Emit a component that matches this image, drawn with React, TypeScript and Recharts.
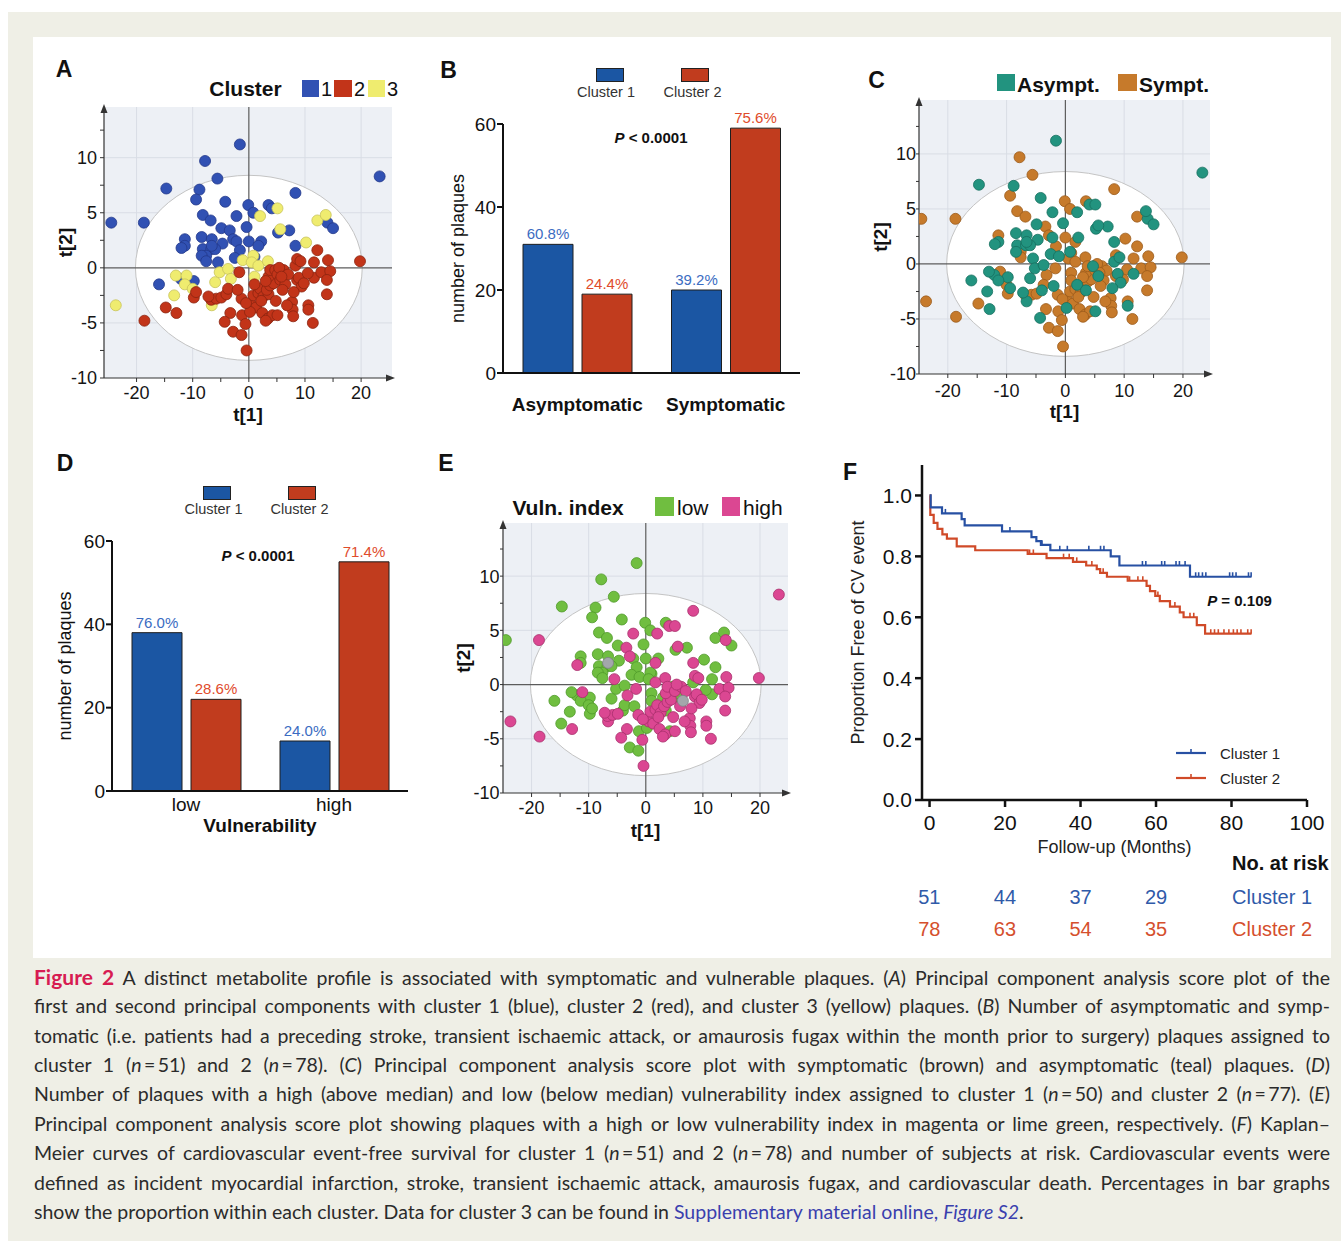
import React from "react";
import {
  ScatterChart, Scatter, XAxis, YAxis, CartesianGrid, ReferenceLine, ReferenceArea, ReferenceDot,
  BarChart, Bar, LabelList, ComposedChart, Line, Label,
} from "recharts";

const FONT = '"Liberation Sans", Arial, Helvetica, sans-serif';

// PCA score rows: [t1, t2, symptomatic 1 / asymptomatic 0, vulnerability high 1 / low 0 / missing -1]
const cluster1Scores = [
  [-24.5, 4.1, 1, 0], [-18.7, 4.1, 1, 1], [-14.7, 7.2, 0, 0], [-8.8, 7.1, 0, 0], [-7.8, 9.7, 1, 0], [-5.6, 8.1, 1, 0], [-1.6, 11.2, 0, 0], [23.3, 8.3, 0, 1], [-9.4, 6.2, 1, 0], [-4.2, 6.0, 0, 0],
  [-8.2, 4.8, 1, 0], [-6.8, 4.3, 1, 0], [-2.2, 4.7, 0, 1], [-0.1, 5.7, 1, 0], [0.8, 5.0, 1, 0], [3.5, 5.7, 1, 0], [4.1, 5.4, 0, 1], [8.3, 6.8, 1, 1], [-0.4, 3.7, 0, 0], [-4.9, 3.6, 0, 0],
  [-3.4, 3.4, 1, 1], [-8.4, 2.8, 0, 0], [-6.6, 2.6, 0, 0], [-2.8, 2.6, 1, 1], [-2.2, 2.4, 0, 0], [-4.7, 2.2, 0, 0], [0, 2.4, 1, 0], [2.2, 2.4, 0, 0], [1.7, 2.0, 1, 1], [5.2, 3.2, 0, 0],
  [7.2, 3.4, 0, 0], [8.3, 2.0, 0, 1], [14.0, 4.1, 0, 1], [15.0, 3.6, 0, 0], [-11.4, 2.6, 1, 0], [-11.4, 2.0, 0, 0], [-12.0, 1.8, 0, 1], [-8.2, 1.7, 0, 0], [-6.7, 1.7, 0, 0], [-6.0, 1.7, 0, 0],
  [-7.6, 1.1, 1, 0], [-8.4, 1.1, 0, 0], [-7.6, 0.6, 1, 0], [-5.5, 0.5, 0, 1], [-1.6, 1.6, 1, 0], [-2.5, 0.9, 0, 0], [-16.0, -1.5, 0, 0], [-12.1, -1.0, 0, 0], [-9.8, -1.2, 0, 0], [-6.6, 2.0, 0, -1],
  [1.0, 1.0, 1, 0],
];

const cluster2Scores = [
  [-18.6, -4.8, 1, 1], [-14.8, -3.6, 1, 0], [-12.9, -4.1, 0, 1], [-9.8, -2.7, 1, 0], [-9.4, -2.2, 0, 0], [-6.7, -2.9, 1, 1], [-5.8, -2.8, 1, 1], [-4.9, -2.7, 1, 1], [-4.0, -2.4, 0, 0], [-3.7, -1.9, 1, 0],
  [-1.7, -0.4, 1, 1], [-1.3, -2.8, 1, 1], [-3.3, -4.1, 1, 1], [-4.3, -4.9, 0, 1], [-2.8, -5.8, 1, 0], [-1.3, -6.1, 1, 0], [-1.2, -4.3, 1, 0], [-0.6, -5.1, 1, 1], [-0.4, -7.5, 1, 1], [0.5, -3.4, 1, 1],
  [1.3, -3.6, 1, 1], [0.8, -2.5, 1, 1], [1.7, -2.3, 1, 1], [2.0, -1.9, 0, 1], [2.6, -2.6, 1, 1], [3.5, -2.4, 0, 0], [3.2, -2.0, 1, 1], [3.8, -1.6, 1, 1], [4.4, -1.4, 1, 1], [2.4, -4.1, 1, 1],
  [3.4, -4.6, 1, 1], [4.2, -4.3, 1, 0], [5.1, -4.3, 0, 1], [3.5, -0.8, 1, 1], [3.8, -0.2, 1, 1], [4.7, -0.2, 0, 0], [5.1, -0.6, 1, 1], [5.6, -1.1, 0, 0], [6.2, -0.2, 1, 1], [6.5, -1.5, 1, -1],
  [5.4, 0, 1, 1], [8.3, 0.2, 0, 0], [8.6, 0.8, 1, 1], [9.2, 0.6, 0, 1], [8.6, -1.1, 1, 1], [8.9, -0.9, 0, 1], [9.4, -1.7, 0, 1], [7.7, -3.1, 1, 1], [7.8, -3.8, 1, 1], [7.9, -4.4, 1, 1],
  [10.6, -3.4, 1, 1], [10.6, -3.8, 0, 1], [11.4, -5.0, 1, 1], [12.2, 1.6, 1, 0], [11.6, 0.5, 1, 0], [14.1, 0.7, 1, 1], [11.6, -0.9, 0, 0], [12.9, -0.4, 1, 1], [14.5, -0.3, 1, 1], [13.9, -1.1, 1, 1],
  [13.9, -2.4, 1, 1], [19.8, 0.6, 1, 1], [3.0, -1.2, 1, 0], [6.0, -2.0, 1, 1], [2.2, -3.0, 1, 1], [1.0, -1.5, 1, 0], [4.8, -3.0, 1, 1], [-2.0, -2.0, 0, 0], [7.0, -0.6, 1, 1], [9.8, -1.4, 1, 1],
  [6.8, -3.4, 1, 1], [0.2, -4.0, 0, 0], [3.0, -4.8, 1, 1], [5.8, -0.8, 1, 0], [-0.5, -3.2, 1, 1], [8.0, -2.2, 0, 1], [10.5, -0.5, 1, 0], [-7.2, -2.6, 0, 1],
];

const cluster3Scores = [
  [-23.7, -3.4, 1, 1], [-13.3, -2.5, 0, 0], [-13.0, -0.7, 0, 0], [-11.1, -0.7, 1, 1], [-11.4, -1.5, 0, 0], [-10.0, -1.9, 1, 0], [-6.6, -3.4, 0, 1], [-6.0, -1.3, 0, 0], [-5.2, -0.4, 0, 0], [-3.7, -0.1, 0, 0],
  [-3.2, -1.0, 1, 1], [-1.1, 0.7, 0, 0], [0.8, 1.1, 0, 0], [0.5, 0.5, 1, 0], [1.7, 0.2, 1, 1], [3.4, 0.6, 1, 1], [1.0, -0.8, 1, 0], [2.0, 4.7, 0, 1], [5.1, 5.4, 0, 1], [5.6, 3.5, 0, 1],
  [10.2, 2.3, 1, 0], [12.2, 4.3, 1, 0], [13.7, 4.8, 0, 0],
];

// confidence ellipse half-axes (score units)
const ellipseT1 = 20.2;
const ellipseT2 = 8.4;

const scoreTicksX = [-20, -15, -10, -5, 0, 5, 10, 15, 20];
const scoreTicksY = [-10, -7.5, -5, -2.5, 0, 2.5, 5, 7.5, 10, 12.5];

// bar panels
const symptomCategories = ["Asymptomatic", "Symptomatic"];
const symptomCluster1 = [31, 20];
const symptomCluster2 = [19, 59];
const symptomPct1 = ["60.8%", "39.2%"];
const symptomPct2 = ["24.4%", "75.6%"];

const vulnCategories = ["low", "high"];
const vulnCluster1 = [38, 12];
const vulnCluster2 = [22, 55];
const vulnPct1 = ["76.0%", "24.0%"];
const vulnPct2 = ["28.6%", "71.4%"];

const countTicks = [0, 20, 40, 60];

// Kaplan-Meier
const kmTimes1 = [0, 0.3, 3.3, 8.5, 9.3, 19.2, 27.0, 28.3, 29.5, 32.0, 48.0, 50.3, 69.0, 85.3];
const kmSurv1 = [1.0, 0.961, 0.941, 0.922, 0.902, 0.882, 0.863, 0.85, 0.838, 0.82, 0.8, 0.77, 0.733, 0.733];
const kmTimes2 = [0, 0.2, 1.1, 2.1, 3.4, 4.6, 7.2, 12.1, 26.0, 31.0, 38.0, 41.5, 44.3, 45.2, 47.0, 52.5, 57.5, 58.4, 59.8, 61.0, 63.7, 66.3, 67.3, 70.8, 73.0, 85.3];
const kmSurv2 = [1.0, 0.936, 0.91, 0.89, 0.872, 0.858, 0.833, 0.82, 0.808, 0.794, 0.782, 0.77, 0.758, 0.746, 0.733, 0.72, 0.703, 0.686, 0.67, 0.653, 0.635, 0.616, 0.6, 0.574, 0.546, 0.546];
const censor1 = [[4.2, 0.941], [21.3, 0.882], [29.8, 0.838], [34.5, 0.82], [36.5, 0.82], [42.2, 0.82], [45.3, 0.82], [46.2, 0.82], [56.4, 0.77], [57.3, 0.77], [61.5, 0.77], [62.3, 0.77], [65.3, 0.77], [66.2, 0.77], [67.7, 0.77], [70.5, 0.733], [71.3, 0.733], [72.3, 0.733], [73.2, 0.733], [79.5, 0.733], [80.3, 0.733], [81.2, 0.733], [84.5, 0.733], [85.2, 0.733]];
const censor2 = [[26.5, 0.808], [27.5, 0.808], [35.5, 0.794], [37.0, 0.794], [39.0, 0.782], [43.0, 0.77], [46.0, 0.746], [53.0, 0.72], [55.2, 0.72], [56.5, 0.72], [60.5, 0.67], [65.0, 0.635], [69.0, 0.6], [70.0, 0.6], [74.5, 0.546], [75.5, 0.546], [76.5, 0.546], [78.0, 0.546], [79.3, 0.546], [80.5, 0.546], [81.5, 0.546], [82.5, 0.546], [84.3, 0.546], [85.2, 0.546]];
const kmTicksX = [0, 20, 40, 60, 80, 100];
const kmTicksY = [0, 0.2, 0.4, 0.6, 0.8, 1.0];
const riskTimes = [0, 20, 40, 60];
const riskCluster1 = [51, 44, 37, 29];
const riskCluster2 = [78, 63, 54, 35];

const BLUE_BAR = "#1b56a3";
const RED_BAR = "#c13c1e";
const BLUE_TXT = "#3b6cc2";
const RED_TXT = "#e04b2b";
const KM_BLUE = "#2750a3";
const KM_RED = "#d04a28";

type Pt = { x: number; y: number };
type Box = { x0: number; x1: number; y0: number; y1: number };
type SeriesDef = { name: string; data: Pt[]; fill: string; stroke: string };

const toPoints = (rows: number[][]): Pt[] => rows.map((r) => ({ x: r[0], y: r[1] }));
const allScores = [...cluster1Scores, ...cluster3Scores, ...cluster2Scores];

const clusterSeries: SeriesDef[] = [
  { name: "1", data: toPoints(cluster1Scores), fill: "#3151b3", stroke: "#23398a" },
  { name: "3", data: toPoints(cluster3Scores), fill: "#efec6f", stroke: "#c8c35a" },
  { name: "2", data: toPoints(cluster2Scores), fill: "#c23419", stroke: "#8c2410" },
];
const symptomSeries: SeriesDef[] = [
  { name: "Sympt.", data: toPoints(allScores.filter((r) => r[2] === 1)), fill: "#c67a2b", stroke: "#9a5a1b" },
  { name: "Asympt.", data: toPoints(allScores.filter((r) => r[2] === 0)), fill: "#22937f", stroke: "#16705f" },
];
const vulnSeries: SeriesDef[] = [
  { name: "low", data: toPoints(allScores.filter((r) => r[3] === 0)), fill: "#70be40", stroke: "#4f992a" },
  { name: "high", data: toPoints(allScores.filter((r) => r[3] === 1)), fill: "#db4792", stroke: "#a8306c" },
  { name: "n/a", data: toPoints(allScores.filter((r) => r[3] === -1)), fill: "#a3a7ab", stroke: "#7d8185" },
];

const Txt = ({ x, y, children, size = 15, weight = "normal", color = "#111", anchor = "middle", style = {} }: any) => {
  const tx = anchor === "middle" ? "-50%" : anchor === "end" ? "-100%" : "0";
  return (
    <div style={{ position: "absolute", left: x, top: y, transform: `translate(${tx},-50%)`, fontSize: size, fontWeight: weight, color, fontFamily: FONT, whiteSpace: "nowrap", lineHeight: 1, ...style }}>
      {children}
    </div>
  );
};

const Swatch = ({ x, y, w, h, color, border = "none" }: any) => (
  <div style={{ position: "absolute", left: x, top: y, width: w, height: h, background: color, border, boxSizing: "border-box" }} />
);

const dotShape = (fill: string, stroke: string) => (p: any) => (
  <circle cx={p.cx} cy={p.cy} r={5.5} fill={fill} stroke={stroke} strokeWidth={0.8} />
);

const ellipseShape = (p: any) => (
  <ellipse cx={p.x + p.width / 2} cy={p.y + p.height / 2} rx={p.width / 2} ry={p.height / 2} fill="#ffffff" stroke="#c4c4c4" strokeWidth={1} />
);
const upArrow = (p: any) => <path d={`M${p.cx},${p.cy - 3} L${p.cx - 3.5},${p.cy + 6} L${p.cx + 3.5},${p.cy + 6} Z`} fill="#333" />;
const rightArrow = (p: any) => <path d={`M${p.cx + 3},${p.cy} L${p.cx - 6},${p.cy - 3.5} L${p.cx - 6},${p.cy + 3.5} Z`} fill="#333" />;

function ScatterPanel({ box, xDomain, yDomain, series, yTickSize, yTickMargin, xTickMargin, xLabelOffset, yLabelOffset }: any) {
  const YW = 60, XH = 55, MT = 12, MR = 16;
  const w = box.x1 - box.x0 + YW + MR;
  const h = box.y1 - box.y0 + MT + XH;
  const tick = { fontSize: 18, fill: "#151515", fontFamily: FONT };
  return (
    <div style={{ position: "absolute", left: box.x0 - YW, top: box.y0 - MT }}>
      <ScatterChart width={w} height={h} margin={{ top: MT, right: MR, bottom: 0, left: 0 }}>
        <CartesianGrid fill="#edf0f5" fillOpacity={1} stroke="#d9dde5" horizontalValues={[-5, 5, 10]} verticalValues={[-20, -10, 10, 20]} />
        <ReferenceArea x1={-ellipseT1} x2={ellipseT1} y1={-ellipseT2} y2={ellipseT2} shape={ellipseShape} ifOverflow="visible" zIndex={-90} />
        <ReferenceLine x={0} stroke="#5c5c5c" strokeWidth={1.2} zIndex={-80} />
        <ReferenceLine y={0} stroke="#5c5c5c" strokeWidth={1.2} zIndex={-80} />
        <XAxis type="number" dataKey="x" domain={xDomain} ticks={scoreTicksX} allowDataOverflow
          tickFormatter={(v: number) => (v % 10 === 0 ? String(v) : "")}
          tick={tick} tickSize={4} tickMargin={xTickMargin} height={XH}
          axisLine={{ stroke: "#333", strokeWidth: 1.2 }} tickLine={{ stroke: "#333" }}>
          <Label value="t[1]" position="insideBottom" offset={xLabelOffset} style={{ fontSize: 19, fontWeight: "bold", fill: "#111", fontFamily: FONT }} />
        </XAxis>
        <YAxis type="number" dataKey="y" domain={yDomain} ticks={scoreTicksY} allowDataOverflow
          tickFormatter={(v: number) => (v % 5 === 0 ? String(v) : "")}
          tick={tick} tickSize={yTickSize} tickMargin={yTickMargin} width={YW}
          axisLine={{ stroke: "#333", strokeWidth: 1.2 }} tickLine={{ stroke: "#333" }}>
          <Label value="t[2]" angle={-90} position="insideLeft" offset={yLabelOffset} style={{ fontSize: 19, fontWeight: "bold", fill: "#111", fontFamily: FONT, textAnchor: "middle" }} />
        </YAxis>
        {series.map((s: SeriesDef) => (
          <Scatter key={s.name} name={s.name} data={s.data} fill={s.fill} shape={dotShape(s.fill, s.stroke)} isAnimationActive={false} />
        ))}
        <ReferenceDot x={xDomain[0]} y={yDomain[1]} ifOverflow="visible" shape={upArrow} />
        <ReferenceDot x={xDomain[1]} y={yDomain[0]} ifOverflow="visible" shape={rightArrow} />
      </ScatterChart>
    </div>
  );
}

function BarPanel({ box, categories, c1, c2, p1, p2, tickBold, tickMargin, xLabel, xLabelOffset, yLabelOffset }: any) {
  const YW = 60, XH = 50, MT = 30, MR = 12;
  const w = box.x1 - box.x0 + YW + MR;
  const h = box.y1 - box.y0 + MT + XH;
  const data = categories.map((c: string, i: number) => ({ cat: c, c1: c1[i], c2: c2[i], p1: p1[i], p2: p2[i] }));
  return (
    <div style={{ position: "absolute", left: box.x0 - YW, top: box.y0 - MT }}>
      <BarChart width={w} height={h} data={data} margin={{ top: MT, right: MR, bottom: 0, left: 0 }} barCategoryGap={20} barGap={9}>
        <XAxis dataKey="cat" tickLine={false} tickSize={0} tickMargin={tickMargin} height={XH}
          axisLine={{ stroke: "#111", strokeWidth: 2 }}
          tick={{ fontSize: 19, fontWeight: tickBold ? "bold" : "normal", fill: "#111", fontFamily: FONT }}>
          {xLabel ? <Label value={xLabel} position="insideBottom" offset={xLabelOffset} style={{ fontSize: 19, fontWeight: "bold", fill: "#111", fontFamily: FONT }} /> : null}
        </XAxis>
        <YAxis type="number" domain={[0, 60]} ticks={countTicks} width={YW} tickSize={6} tickMargin={1}
          axisLine={{ stroke: "#111", strokeWidth: 2 }} tickLine={{ stroke: "#111", strokeWidth: 2 }}
          tick={{ fontSize: 19, fill: "#111", fontFamily: FONT }}>
          <Label value="number of plaques" angle={-90} position="insideLeft" offset={yLabelOffset} style={{ fontSize: 18, fill: "#111", fontFamily: FONT, textAnchor: "middle" }} />
        </YAxis>
        <Bar dataKey="c1" fill={BLUE_BAR} stroke="#1e1e1e" strokeWidth={1} isAnimationActive={false}>
          <LabelList dataKey="p1" position="top" offset={5} fill={BLUE_TXT} fontSize={15} fontFamily={FONT} />
        </Bar>
        <Bar dataKey="c2" fill={RED_BAR} stroke="#1e1e1e" strokeWidth={1} isAnimationActive={false}>
          <LabelList dataKey="p2" position="top" offset={5} fill={RED_TXT} fontSize={15} fontFamily={FONT} />
        </Bar>
      </BarChart>
    </div>
  );
}

const censorShape = (color: string) => (p: any) => (
  <line x1={p.cx} y1={p.cy - 4.5} x2={p.cx} y2={p.cy} stroke={color} strokeWidth={1.6} />
);

function KaplanMeierPanel({ box }: { box: Box }) {
  const YW = 84, XH = 60, MT = 8, MR = 22;
  const w = box.x1 - box.x0 + YW + MR;
  const h = box.y1 - box.y0 + MT + XH;
  const km1 = kmTimes1.map((t, i) => ({ t, s: kmSurv1[i] }));
  const km2 = kmTimes2.map((t, i) => ({ t, s: kmSurv2[i] }));
  const cens1 = censor1.map(([t, s]) => ({ t, s }));
  const cens2 = censor2.map(([t, s]) => ({ t, s }));
  const tick = { fontSize: 21, fill: "#111", fontFamily: FONT };
  return (
    <div style={{ position: "absolute", left: box.x0 - YW, top: box.y0 - MT }}>
      <ComposedChart width={w} height={h} margin={{ top: MT, right: MR, bottom: 0, left: 0 }}>
        <XAxis type="number" dataKey="t" domain={[-2, 100]} ticks={kmTicksX} allowDataOverflow height={XH}
          tickSize={7} tickMargin={8} tick={tick}
          axisLine={{ stroke: "#111", strokeWidth: 2.5 }} tickLine={{ stroke: "#111", strokeWidth: 2.5 }}>
          <Label value="Follow-up (Months)" position="insideBottom" offset={7} style={{ fontSize: 18, fill: "#222", fontFamily: FONT }} />
        </XAxis>
        <YAxis type="number" dataKey="s" domain={[0, 1.1]} ticks={kmTicksY} allowDataOverflow width={YW}
          tickFormatter={(v: number) => v.toFixed(1)} tickSize={7} tickMargin={3} tick={tick}
          axisLine={{ stroke: "#111", strokeWidth: 2.5 }} tickLine={{ stroke: "#111", strokeWidth: 2.5 }}>
          <Label value="Proportion Free of CV event" angle={-90} position="insideLeft" offset={20} style={{ fontSize: 18, fill: "#222", fontFamily: FONT, textAnchor: "middle" }} />
        </YAxis>
        <Line data={km2} dataKey="s" type="stepAfter" stroke={KM_RED} strokeWidth={2.2} dot={false} isAnimationActive={false} />
        <Line data={km1} dataKey="s" type="stepAfter" stroke={KM_BLUE} strokeWidth={2.2} dot={false} isAnimationActive={false} />
        <Scatter data={cens2} dataKey="s" fill={KM_RED} shape={censorShape(KM_RED)} isAnimationActive={false} />
        <Scatter data={cens1} dataKey="s" fill={KM_BLUE} shape={censorShape(KM_BLUE)} isAnimationActive={false} />
      </ComposedChart>
    </div>
  );
}

const LegendLine = ({ x, y, color }: any) => (
  <svg style={{ position: "absolute", left: x, top: y - 5 }} width={30} height={10}>
    <line x1={0} y1={5} x2={30} y2={5} stroke={color} strokeWidth={2.2} />
    <line x1={15} y1={1} x2={15} y2={5} stroke={color} strokeWidth={1.6} />
  </svg>
);

const PValue = ({ x, y, text }: any) => (
  <Txt x={x} y={y} size={15} weight="bold">
    <i>P</i> {text}
  </Txt>
);

const nEq = (v: string) => (
  <>
    (<i>n</i>{"\u2009=\u2009"}{v})
  </>
);

const captionLines: React.ReactNode[] = [
  <><b style={{ color: "#d71c52", fontSize: 21 }}>Figure 2</b> A distinct metabolite profile is associated with symptomatic and vulnerable plaques. (<i>A</i>) Principal component analysis score plot of the</>,
  <>first and second principal components with cluster 1 (blue), cluster 2 (red), and cluster 3 (yellow) plaques. (<i>B</i>) Number of asymptomatic and symp-</>,
  <>tomatic (i.e. patients had a preceding stroke, transient ischaemic attack, or amaurosis fugax within the month prior to surgery) plaques assigned to</>,
  <>cluster 1 {nEq("51")} and 2 {nEq("78")}. (<i>C</i>) Principal component analysis score plot with symptomatic (brown) and asymptomatic (teal) plaques. (<i>D</i>)</>,
  <>Number of plaques with a high (above median) and low (below median) vulnerability index assigned to cluster 1 {nEq("50")} and cluster 2 {nEq("77")}. (<i>E</i>)</>,
  <>Principal component analysis score plot showing plaques with a high or low vulnerability index in magenta or lime green, respectively. (<i>F</i>) Kaplan–</>,
  <>Meier curves of cardiovascular event-free survival for cluster 1 {nEq("51")} and 2 {nEq("78")} and number of subjects at risk. Cardiovascular events were</>,
  <>defined as incident myocardial infarction, stroke, transient ischaemic attack, amaurosis fugax, and cardiovascular death. Percentages in bar graphs</>,
  <>show the proportion within each cluster. Data for cluster 3 can be found in <span style={{ color: "#3a3fae" }}>Supplementary material online, <i>Figure S2</i></span>.</>,
];
const captionTops = [976, 1005.5, 1035, 1064.5, 1093.5, 1123, 1152.5, 1182, 1211.5];

export default function App() {
  const letter = (x: number, y: number, s: string) => <Txt x={x} y={y} size={23} weight="bold">{s}</Txt>;
  return (
    <div style={{ position: "absolute", left: 0, top: 0, width: 1341, height: 1241, background: "#fff", fontFamily: FONT, overflow: "hidden" }}>
      <div style={{ position: "absolute", left: 8, top: 12, width: 1333, height: 1229, background: "#efefe6" }} />
      <div style={{ position: "absolute", left: 33, top: 37, width: 1298, height: 921, background: "#fff" }} />

      {/* A */}
      {letter(64, 69, "A")}
      <Txt x={245.5} y={88} size={21} weight="bold">Cluster</Txt>
      <Swatch x={302} y={80} w={17} h={17} color="#3151b3" />
      <Txt x={321} y={89} size={20} anchor="start">1</Txt>
      <Swatch x={334} y={80} w={18} h={17} color="#c23419" />
      <Txt x={354} y={89} size={20} anchor="start">2</Txt>
      <Swatch x={368} y={80} w={17} h={17} color="#efec6f" />
      <Txt x={387} y={89} size={20} anchor="start">3</Txt>
      <ScatterPanel box={{ x0: 104, x1: 392, y0: 107, y1: 378 }} xDomain={[-25.8, 25.5]} yDomain={[-10, 14.6]} series={clusterSeries}
        yTickSize={4} yTickMargin={3} xTickMargin={4.5} xLabelOffset={12} yLabelOffset={21} />

      {/* B */}
      {letter(448.5, 69.5, "B")}
      <Swatch x={596} y={68} w={28} h={14} color={BLUE_BAR} border="1px solid #222" />
      <Txt x={606} y={92} size={14.5} color="#333">Cluster 1</Txt>
      <Swatch x={681} y={68} w={28} h={14} color={RED_BAR} border="1px solid #222" />
      <Txt x={692.5} y={92} size={14.5} color="#333">Cluster 2</Txt>
      <PValue x={651} y={137} text="< 0.0001" />
      <BarPanel box={{ x0: 503, x1: 800, y0: 124, y1: 373 }} categories={symptomCategories} c1={symptomCluster1} c2={symptomCluster2}
        p1={symptomPct1} p2={symptomPct2} tickBold tickMargin={25} yLabelOffset={15} />

      {/* C */}
      {letter(876.5, 80, "C")}
      <Swatch x={997} y={74} w={18} h={17} color="#22937f" />
      <Txt x={1017} y={84} size={21} weight="bold" anchor="start">Asympt.</Txt>
      <Swatch x={1118} y={74} w={19} h={17} color="#c67a2b" />
      <Txt x={1139} y={84} size={21} weight="bold" anchor="start">Sympt.</Txt>
      <ScatterPanel box={{ x0: 919, x1: 1210, y0: 100, y1: 374 }} xDomain={[-24.9, 24.6]} yDomain={[-10, 14.9]} series={symptomSeries}
        yTickSize={3} yTickMargin={0} xTickMargin={6.5} xLabelOffset={11} yLabelOffset={21} />

      {/* D */}
      {letter(65, 463, "D")}
      <Swatch x={203} y={486} w={28} h={14} color={BLUE_BAR} border="1px solid #222" />
      <Txt x={213.5} y={509} size={14.5} color="#333">Cluster 1</Txt>
      <Swatch x={288} y={486} w={28} h={14} color={RED_BAR} border="1px solid #222" />
      <Txt x={299.5} y={509} size={14.5} color="#333">Cluster 2</Txt>
      <PValue x={258} y={555} text="< 0.0001" />
      <BarPanel box={{ x0: 112, x1: 408, y0: 541, y1: 791 }} categories={vulnCategories} c1={vulnCluster1} c2={vulnCluster2}
        p1={vulnPct1} p2={vulnPct2} tickBold={false} tickMargin={7} xLabel="Vulnerability" xLabelOffset={9.5} yLabelOffset={13} />

      {/* E */}
      {letter(446, 463, "E")}
      <Txt x={568} y={507} size={21} weight="bold">Vuln. index</Txt>
      <Swatch x={655} y={497} w={19} h={19} color="#70be40" />
      <Txt x={677} y={507} size={21} anchor="start">low</Txt>
      <Swatch x={722} y={497} w={18} h={19} color="#db4792" />
      <Txt x={743} y={507} size={21} anchor="start">high</Txt>
      <ScatterPanel box={{ x0: 503, x1: 788, y0: 523, y1: 793 }} xDomain={[-25, 24.9]} yDomain={[-10, 14.9]} series={vulnSeries}
        yTickSize={3} yTickMargin={0.5} xTickMargin={4.5} xLabelOffset={11.5} yLabelOffset={20} />

      {/* F */}
      {letter(850, 472, "F")}
      <KaplanMeierPanel box={{ x0: 922, x1: 1307, y0: 465, y1: 800 }} />
      <Txt x={1239.5} y={600} size={15} weight="bold"><i>P</i> = 0.109</Txt>
      <LegendLine x={1176} y={753} color={KM_BLUE} />
      <Txt x={1220} y={753} size={15} color="#222" anchor="start">Cluster 1</Txt>
      <LegendLine x={1176} y={778} color={KM_RED} />
      <Txt x={1220} y={778} size={15} color="#222" anchor="start">Cluster 2</Txt>
      <Txt x={1232} y={863} size={20} weight="bold" anchor="start">No. at risk</Txt>
      {riskTimes.map((t, i) => (
        <React.Fragment key={t}>
          <Txt x={929.3 + t * 3.78} y={897} size={20} color="#2f5aa9">{riskCluster1[i]}</Txt>
          <Txt x={929.3 + t * 3.78} y={929} size={20} color="#d54f2d">{riskCluster2[i]}</Txt>
        </React.Fragment>
      ))}
      <Txt x={1232} y={897} size={20} color="#2f5aa9" anchor="start">Cluster 1</Txt>
      <Txt x={1232} y={929} size={20} color="#d54f2d" anchor="start">Cluster 2</Txt>

      {/* caption */}
      {captionLines.map((line, i) => (
        <div key={i} style={{ position: "absolute", left: 34, top: captionTops[i] - 14.5, width: 1296, height: 29, lineHeight: "29px",
          fontFamily: "Lato, 'Open Sans', sans-serif", fontSize: 19.5, color: "#2b2b2b",
          textAlign: "justify", textAlignLast: i === captionLines.length - 1 ? "left" : "justify", whiteSpace: "normal", overflow: "visible" }}>
          {line}
        </div>
      ))}
    </div>
  );
}
